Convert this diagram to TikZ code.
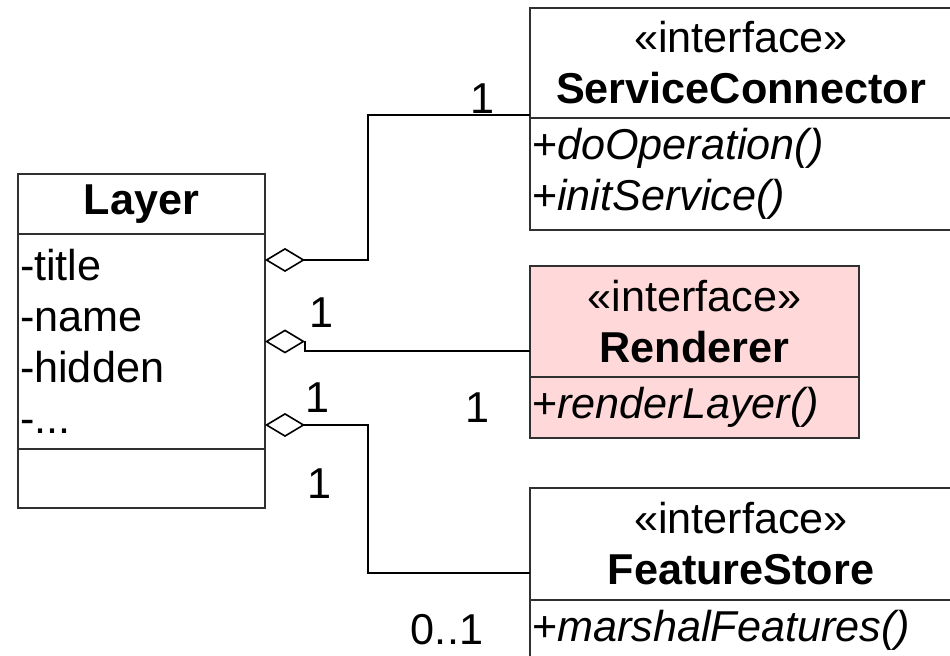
\documentclass[tikz,border=0pt]{standalone}
\usepackage{fontspec}
\setmainfont{Liberation Sans}
\usetikzlibrary{positioning}
\usetikzlibrary{arrows.meta}
\definecolor{umlpink}{HTML}{FFD9D9}
\definecolor{umlline}{HTML}{303030}
\newcommand\umlfont{\fontsize{21.6pt}{25.5pt}\selectfont}

\begin{document}
\begin{tikzpicture} [font=\umlfont,
    classtitle/.style={draw=umlline, line width=1pt, outer sep=0pt, align=center, inner sep=0pt, minimum width=#1},
    classbody/.style={draw=umlline, line width=1pt, outer sep=0pt, align=left, inner xsep=1pt, inner ysep=0pt, text width=#1},
    aggr/.style={draw=black, line width=0.8pt, {Diamond[open, length=20pt, width=12pt, line width=0.8pt]}-}]

\useasboundingbox (0,0) rectangle (475pt,-328pt);

\node [classtitle=123.5pt, minimum height=30pt, anchor=north west] (layerTitle) at (9pt,-87pt) {\textbf{Layer}};
\node [classbody=121.5pt, minimum height=107.5pt, below=0pt of layerTitle] (layerBody) {-title\\-name\\-hidden\\-...};
\node [classbody=121.5pt, minimum height=29.5pt, below=0pt of layerBody] (layerOps) {};

\node [classtitle=211pt, minimum height=55pt, anchor=north west] (scTitle) at (265pt,-4pt) {«interface»\\\textbf{ServiceConnector}};
\node [classbody=209pt, minimum height=56pt, below=0pt of scTitle] (scOps) {+\textit{doOperation()}\\+\textit{initService()}};

\node [classtitle=164.5pt, minimum height=55.5pt, fill=umlpink, anchor=north west] (renTitle) at (265pt,-133pt) {«interface»\\\textbf{Renderer}};
\node [classbody=162.5pt, minimum height=30.5pt, fill=umlpink, below=0pt of renTitle] (renOps) {+\textit{renderLayer()}};

\node [classtitle=211pt, minimum height=56pt, anchor=north west] (fsTitle) at (265pt,-244pt) {«interface»\\\textbf{FeatureStore}};
\node [classbody=209pt, minimum height=30pt, below=0pt of fsTitle] (fsOps) {+\textit{marshalFeatures()}};

\coordinate (aggA) at ([yshift=40.75pt]layerBody.east);
\coordinate (aggB) at (layerBody.east);
\coordinate (aggC) at ([yshift=-41.75pt]layerBody.east);

\draw [aggr] (aggA) -- ++(51.5pt,0) |- ([yshift=1.5pt]scTitle.south west);
\draw [aggr] (aggB) -- ++(20pt,0) |- ([yshift=13pt]renTitle.south west);
\draw [aggr] (aggC) -- ++(51.5pt,0) |- ([yshift=13.5pt]fsTitle.south west);

\node (mulA) at (241.5pt,-49.5pt) {1};
\node (mulB) at (161pt,-156.5pt) {1};
\node (mulC) at (239pt,-204pt) {1};
\node (mulD) at (159pt,-199pt) {1};
\node (mulE) at (160pt,-242pt) {1};
\node (mulF) at (223.5pt,-315pt) {0..1};

\end{tikzpicture}
\end{document}
